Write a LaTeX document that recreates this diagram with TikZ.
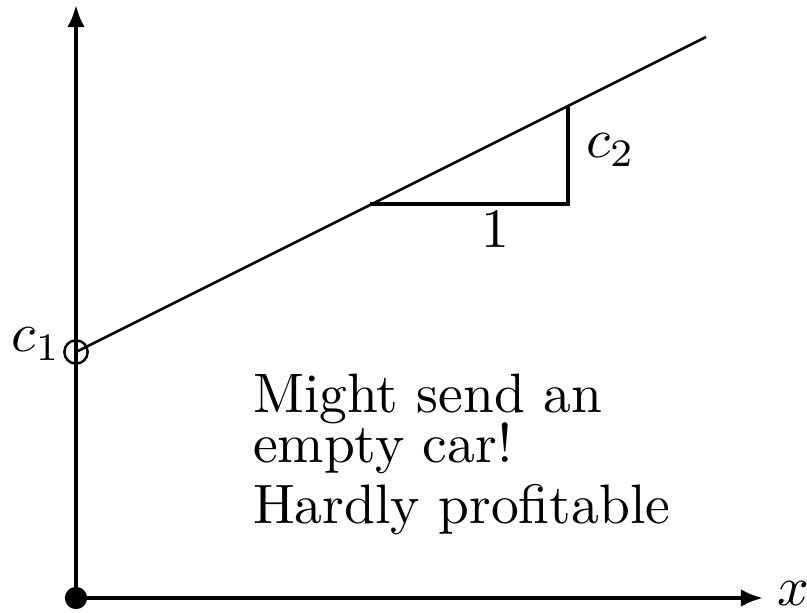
\documentclass[tikz,border=0pt]{standalone}
\usetikzlibrary{arrows.meta}
\begin{document}
\begin{tikzpicture}[x=0.18pt,y=-0.18pt,
  axis/.style={line width=0.72pt,-{Latex[length=4pt,width=3.2pt]}},
  thin line/.style={line width=0.45pt},
  tri/.style={line width=0.55pt},
  lbl/.style={inner sep=0pt,font=\fontsize{10}{9}\selectfont}]
\useasboundingbox (0,0) rectangle (807,613);
\coordinate (O) at (76,598);
\coordinate (ytop) at (76,5);
\coordinate (xend) at (763,598);
\coordinate (c1) at (76,352);
\coordinate (lend) at (706,37);
\coordinate (tA) at (370,204);
\coordinate (tB) at (568,204);
\coordinate (tC) at (568,105);
\draw[axis] (O) -- (ytop);
\draw[axis] (O) -- (xend);
\draw[thin line] (c1) -- (lend);
\draw[tri] (tA) -- (tB) -- (tC);
\fill (O) circle (2pt);
\draw[line width=0.45pt] (c1) circle (2.1pt);
\node[lbl,anchor=base east] (c1l) at (62,352) {$c_1$};
\node[lbl,anchor=base west] (c2l) at (585,158) {$c_2$};
\node[lbl,anchor=base] (one) at (495,248) {$1$};
\node[lbl,anchor=base west] (xl) at (776,606) {$x$};
\node[lbl,anchor=base west] (t1a) at (252,413) {Might send an};
\node[lbl,anchor=base west] (t1b) at (252,463) {empty car!};
\node[lbl,anchor=base west] (t2) at (252,524) {Hardly profitable};
\end{tikzpicture}
\end{document}
